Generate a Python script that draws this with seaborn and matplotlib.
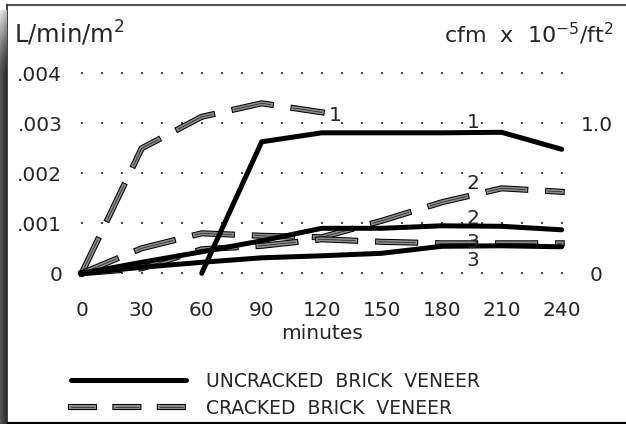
import numpy as np
import pandas as pd
import matplotlib
matplotlib.use("Agg")
import matplotlib.pyplot as plt
import matplotlib.patheffects as pe
from matplotlib.lines import Line2D
import seaborn as sns

# ---- data (air leakage rate, L/min/m^2, vs elapsed minutes) ----
minutes = [0, 30, 60, 90, 120, 150, 180, 210, 240]

uncracked_1_min = [60, 90, 120, 150, 180, 210, 240]
uncracked_1 = [0.0, 0.00263, 0.00281, 0.00281, 0.00281, 0.00282, 0.00248]
uncracked_2 = [0.0, 0.00022, 0.00043, 0.00065, 0.00090, 0.00090, 0.00095, 0.00094, 0.00087]
uncracked_3 = [0.0, 0.00012, 0.00022, 0.00031, 0.00035, 0.00040, 0.00054, 0.00055, 0.00053]

cracked_1_min = [0, 30, 60, 90, 120]
cracked_1 = [0.0, 0.00250, 0.00313, 0.00340, 0.00322]
cracked_2 = [0.0, 0.00050, 0.00080, 0.00075, 0.00072, 0.00105, 0.00142, 0.00170, 0.00163]
cracked_3 = [0.0, 0.00010, 0.00048, 0.00055, 0.00068, 0.00063, 0.00060, 0.00060, 0.00060]

x_ticks = [0, 30, 60, 90, 120, 150, 180, 210, 240]
y_ticks = [0, 0.001, 0.002, 0.003, 0.004]
y_tick_labels = ["0", ".001", ".002", ".003", ".004"]
right_ticks = [0, 1.0]
right_tick_labels = ["0", "1.0"]
legend_labels = ["UNCRACKED  BRICK  VENEER", "CRACKED  BRICK  VENEER"]

RIGHT_AXIS_SCALE = 0.003  # L/min/m^2 per (cfm x 1e-5 / ft^2) tick unit

rows = []
for name, xs, ys in [("U1", uncracked_1_min, uncracked_1),
                     ("U2", minutes, uncracked_2),
                     ("U3", minutes, uncracked_3),
                     ("C1", cracked_1_min, cracked_1),
                     ("C2", minutes, cracked_2),
                     ("C3", minutes, cracked_3)]:
    for x, y in zip(xs, ys):
        rows.append({"series": name, "minutes": x, "rate": y})
df = pd.DataFrame(rows)

sns.set_style("white")
plt.rcParams["font.family"] = ["DejaVu Sans"]
plt.rcParams["mathtext.fontset"] = "dejavusans"
FS = 14.5
GRAY = "#8c8c8c"

W, H = 626, 424
fig = plt.figure(figsize=(W / 100, H / 100), dpi=100)
fig.patch.set_facecolor("white")

ax = fig.add_axes([81.7 / W, 150.7 / H, 480 / W, 200 / H])
ax.set_xlim(0, 240)
ax.set_ylim(0, 0.004)
for s in ax.spines.values():
    s.set_visible(False)

# dotted horizontal guide rows
gx, gy = np.meshgrid(np.arange(0, 241, 10), y_ticks)
ax.scatter(gx.ravel(), gy.ravel(), s=1.0, marker="s", color="#444444",
           linewidths=0, clip_on=False, zorder=1)

# cracked veneer: outlined grey dashes with a thin dark core
dash_fx = [pe.Stroke(linewidth=4.4, foreground="black", capstyle="projecting"),
           pe.Normal(),
           pe.Stroke(linewidth=0.5, foreground="#222222")]
for name in ["C1", "C2", "C3"]:
    sub = df[df["series"] == name]
    sns.lineplot(data=sub, x="minutes", y="rate", ax=ax, color=GRAY,
                 linewidth=2.9, linestyle=(0, (9.2, 5.7)),
                 dash_capstyle="projecting", dash_joinstyle="miter",
                 path_effects=dash_fx, clip_on=False, zorder=3,
                 errorbar=None, legend=False)

# uncracked veneer: heavy solid lines
for name in ["U1", "U2", "U3"]:
    sub = df[df["series"] == name]
    sns.lineplot(data=sub, x="minutes", y="rate", ax=ax, color="black",
                 linewidth=3.6, solid_capstyle="round", solid_joinstyle="round",
                 clip_on=False, zorder=4, errorbar=None, legend=False)

# curve numbers
for txt, x, y in [("1", 126.7, 0.00315), ("1", 195.7, 0.00302),
                  ("2", 195.4, 0.00179), ("2", 195.4, 0.00109),
                  ("3", 195.4, 0.00061), ("3", 195.4, 0.00026)]:
    ax.text(x, y, txt, fontsize=FS, ha="center", va="center", zorder=5)

ax.set_xticks(x_ticks, [str(t) for t in x_ticks])
ax.set_yticks(y_ticks, y_tick_labels)
ax.tick_params(axis="x", length=0, pad=20, labelsize=FS)
ax.tick_params(axis="y", length=0, pad=14, labelsize=FS)
ax.set_xlabel("minutes", fontsize=FS, labelpad=3)
ax.set_ylabel("")

sec = ax.secondary_yaxis("right", functions=(lambda v: v / RIGHT_AXIS_SCALE,
                                             lambda v: v * RIGHT_AXIS_SCALE))
sec.set_yticks(right_ticks, right_tick_labels)
sec.tick_params(length=0, pad=25, labelsize=FS)
for t in sec.get_yticklabels():
    t.set_horizontalalignment("center")
for s in sec.spines.values():
    s.set_visible(False)

# unit captions
fig.text(14 / W, 1 - 43 / H, r"L/min/m$^{2}$", fontsize=17.5, ha="left",
         va="baseline")
fig.text(614 / W, 1 - 43 / H, r"cfm  x  10$^{-5}$/ft$^{2}$", fontsize=16,
         ha="right", va="baseline")

# legend
LEG_FS = 13.5
h_solid = Line2D([], [], color="black", linewidth=3.6, solid_capstyle="round")
h_dash = Line2D([], [], color=GRAY, linewidth=2.9, linestyle=(0, (5.7, 5.33)),
                dash_capstyle="projecting", path_effects=dash_fx)
fig.legend([h_solid, h_dash], legend_labels, loc="upper left",
           bbox_to_anchor=(70.5 / W, 1 - 372 / H), frameon=False,
           handlelength=115 / (LEG_FS * 100 / 72), handletextpad=21 / (LEG_FS * 100 / 72),
           borderpad=0, borderaxespad=0, labelspacing=0.4, fontsize=LEG_FS)

# window frame
fig.add_artist(Line2D([7 / W, 1], [1 - 5 / H] * 2, transform=fig.transFigure,
                      color="#555555", linewidth=1.5))
fig.add_artist(Line2D([7 / W] * 2, [1 - 5 / H, 1 - 422.5 / H],
                      transform=fig.transFigure, color="#222222", linewidth=1.2))
fig.add_artist(Line2D([7 / W, 1], [1 - 422.5 / H] * 2, transform=fig.transFigure,
                      color="black", linewidth=1.6))

# shaded window edge on the left, pixel-exact
strip_h, strip_w = H - 10, 7
yy = np.linspace(0, 1, strip_h)[:, None]      # 0 = top of strip
xx = np.linspace(0, 1, strip_w)[None, :]      # 0 = outer edge
shade = 0.33 - 0.15 * xx + 0.6 * np.clip((0.15 - yy) / 0.15, 0, 1) ** 1.4
shade = np.clip(shade, 0, 1)
fig.figimage(np.dstack([shade] * 3), xo=0, yo=0, origin="upper", zorder=5)

fig.savefig("out.png", dpi=100)
